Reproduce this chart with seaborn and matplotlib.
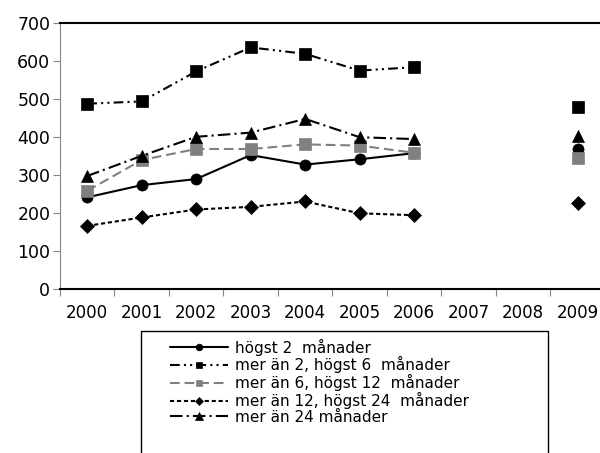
import numpy as np
import pandas as pd
import matplotlib.pyplot as plt
import seaborn as sns
from matplotlib.patches import Rectangle

# Données
years = ['2000', '2001', '2002', '2003', '2004', '2005', '2006', '2007', '2008', '2009']
hogst_2 = [241, 273, 289, 352, 327, 341, 357, np.nan, np.nan, 368]
hogst_6 = [487, 493, 572, 635, 618, 574, 583, np.nan, np.nan, 478]
hogst_12 = [258, 339, 368, 368, 380, 377, 358, np.nan, np.nan, 344]
hogst_24 = [166, 188, 209, 216, 230, 199, 194, np.nan, np.nan, 227]
over_24 = [297, 350, 400, 411, 447, 399, 394, np.nan, np.nan, 402]

labels = ['högst 2  månader',
          'mer än 2, högst 6  månader',
          'mer än 6, högst 12  månader',
          'mer än 12, högst 24  månader',
          'mer än 24 månader']
series = [hogst_2, hogst_6, hogst_12, hogst_24, over_24]

# Styles des séries
colors = ['black', 'black', '#808080', 'black', 'black']
markers = ['o', 's', 's', 'D', '^']
msizes = [8, 8, 8, 7, 8.5]
styles = ['-', (0, (7, 3, 1.5, 3, 1.5, 3)), (0, (7, 3.5)), (0, (3, 2)), (0, (9, 3, 1.5, 3))]

sns.set_style('white')
plt.rcParams['font.family'] = ['DejaVu Sans']
plt.rcParams['lines.scale_dashes'] = False

fig = plt.figure(figsize=(6, 4.53), dpi=100)
ax = fig.add_axes([0.1, 0.362, 0.908, 0.588])

pos = np.arange(len(years))
handles = []
for vals, lab, c, m, ms, ls in zip(series, labels, colors, markers, msizes, styles):
    df = pd.DataFrame({'pos': pos, 'val': vals})
    part1 = df.iloc[:7]
    part2 = df.iloc[9:]
    sns.lineplot(data=part1, x='pos', y='val', ax=ax, color=c, marker=m,
                 markersize=ms, linestyle=ls, linewidth=1.5,
                 markeredgecolor=c, markeredgewidth=0.5)
    handles.append(ax.lines[-1])
    sns.lineplot(data=part2, x='pos', y='val', ax=ax, color=c, marker=m,
                 markersize=ms, linestyle='none',
                 markeredgecolor=c, markeredgewidth=0.5)

if ax.get_legend():
    ax.get_legend().remove()

ax.set_xlim(-0.5, len(years) - 0.5)
ax.set_ylim(0, 700)
ax.set_yticks(range(0, 701, 100))
ax.set_xticks(pos)
ax.set_xticklabels(years)
ax.set_xticks(np.arange(-0.5, len(years)), minor=True)
ax.set_xlabel('')
ax.set_ylabel('')

ax.tick_params(axis='y', left=True, length=5, width=0.8, color='#868686',
               pad=2, labelsize=12.5, labelcolor='black')
ax.tick_params(axis='x', which='major', bottom=True, length=0, pad=11,
               labelsize=12, labelcolor='black')
ax.tick_params(axis='x', which='minor', bottom=True, length=5, width=0.8,
               color='#868686')

for s in ['top', 'bottom']:
    ax.spines[s].set_color('black')
    ax.spines[s].set_linewidth(1.5)
ax.spines['left'].set_color('#868686')
ax.spines['left'].set_linewidth(0.8)
ax.spines['right'].set_visible(False)

# Cadre de la légende
fig.patches.append(Rectangle((0.235, -0.05), 0.678, 0.3193, transform=fig.transFigure,
                             fill=False, edgecolor='black', linewidth=1))

leg = fig.legend(handles, labels, loc='upper left', bbox_to_anchor=(0.2833, 0.2526),
                 frameon=False, fontsize=11, borderpad=0, borderaxespad=0,
                 handlelength=3.8, handletextpad=0.45, labelspacing=0.05,
                 markerscale=0.6)
for t in leg.get_texts():
    t.set_color('black')

fig.savefig('out.png', dpi=100)
